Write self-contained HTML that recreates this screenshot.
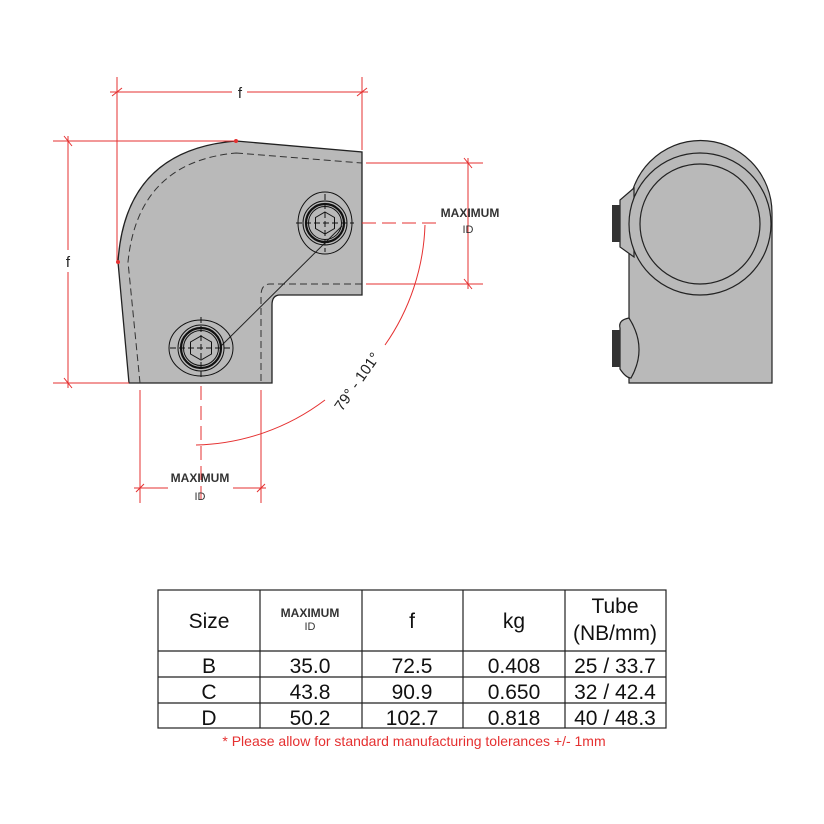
<!DOCTYPE html>
<html><head><meta charset="utf-8"><style>
html,body{margin:0;padding:0;background:#fff;}
svg{display:block;font-family:"Liberation Sans",Arial,sans-serif;}
</style></head><body>
<svg width="824" height="824" viewBox="0 0 824 824" xmlns="http://www.w3.org/2000/svg">
<path d="M236,141 L362,152 L362,295 L280,295 Q272,295 272,305 L272,383 L129,383 L118,262 Q125,150 236,141 Z" fill="#b9b9b9" stroke="#222" stroke-width="1.3"/>
<path d="M236,153 L362,163 M362,284 L270,284 Q261,284 261,296 L261,383 M140,383 L128,262 Q138,162 236,153" fill="none" stroke="#333" stroke-width="1" stroke-dasharray="7,4"/>
<line x1="342" y1="226" x2="220" y2="347" stroke="#222" stroke-width="1"/>
<g transform="translate(325,223)" fill="none" stroke="#111">
<ellipse rx="27" ry="31" stroke-width="1"/>
<circle r="22" stroke-width="1"/><circle r="19" stroke-width="2.2"/><circle r="16.5" stroke-width="1"/>
<polygon points="0,-11 9.5,-5.5 9.5,5.5 0,11 -9.5,5.5 -9.5,-5.5" stroke-width="1"/>
<line x1="-29" y1="0" x2="29" y2="0" stroke-dasharray="6,3"/><line x1="0" y1="-29" x2="0" y2="29" stroke-dasharray="6,3"/>
</g>
<g transform="translate(201,348)" fill="none" stroke="#111">
<ellipse rx="32" ry="28" stroke-width="1"/>
<circle r="23" stroke-width="1"/><circle r="20" stroke-width="2.2"/><circle r="17.5" stroke-width="1"/>
<polygon points="0,-12 10.5,-6 10.5,6 0,12 -10.5,6 -10.5,-6" stroke-width="1"/>
<line x1="-31" y1="0" x2="31" y2="0" stroke-dasharray="6,3"/><line x1="0" y1="-31" x2="0" y2="31" stroke-dasharray="6,3"/>
</g>
<g stroke="#e53030" stroke-width="1" fill="none">
<line x1="117" y1="77" x2="117" y2="262"/><line x1="362" y1="77" x2="362" y2="150"/>
<line x1="110" y1="92" x2="232" y2="92"/><line x1="247" y1="92" x2="368" y2="92"/>
<line x1="53" y1="141" x2="236" y2="141"/><line x1="53" y1="383" x2="129" y2="383"/>
<line x1="68" y1="136" x2="68" y2="250"/><line x1="68" y1="272" x2="68" y2="388"/>
<line x1="366" y1="163" x2="483" y2="163"/><line x1="366" y1="284" x2="483" y2="284"/>
<line x1="468" y1="158" x2="468" y2="289"/>
<line x1="362" y1="223" x2="436" y2="223" stroke-dasharray="14,6"/>
<line x1="140" y1="390" x2="140" y2="503"/><line x1="261" y1="390" x2="261" y2="503"/>
<line x1="134" y1="488" x2="168" y2="488"/><line x1="233" y1="488" x2="266" y2="488"/>
<line x1="201" y1="386" x2="201" y2="505" stroke-dasharray="14,6"/>
<path d="M196,445 A222,222 0 0 0 325,400"/>
<path d="M385,345 A222,222 0 0 0 425,225"/>
<path d="M112,96 L122,88 M357,96 L367,88 M64,136 L72,146 M64,378 L72,388 M464,158 L472,168 M464,279 L472,289 M136,492 L144,484 M257,492 L265,484"/>
</g>
<circle cx="236" cy="141" r="2" fill="#e53030"/><circle cx="118" cy="262" r="2" fill="#e53030"/>
<g fill="#222">
<text x="240" y="98" font-size="15" text-anchor="middle">f</text>
<text x="68" y="267" font-size="15" text-anchor="middle">f</text>
<text x="470" y="217" font-size="12" font-weight="bold" text-anchor="middle" fill="#333">MAXIMUM</text>
<text x="468" y="233" font-size="11" text-anchor="middle" fill="#333">ID</text>
<text x="200" y="482" font-size="12" font-weight="bold" text-anchor="middle" fill="#333">MAXIMUM</text>
<text x="200" y="500" font-size="11" text-anchor="middle" fill="#333">ID</text>
<text x="0" y="0" font-size="15" transform="translate(342,412) rotate(-55)">79° - 101°</text>
</g>
<g stroke="#222" stroke-width="1.2" fill="#b9b9b9">
<path d="M629,383 L629,213 A71,72 0 0 1 772,213 L772,383 Z"/>
<path d="M634,188 L620,200 L620,247 L634,257 Z"/>
<path d="M629,318 Q618,320 620,328 L620,369 Q626,378 631,378 Q648,348 629,318 Z"/>
<circle cx="700" cy="224" r="71" fill="#b9b9b9"/>
<circle cx="700" cy="224" r="60"/>
</g>
<rect x="612" y="205" width="8" height="37" fill="#333"/>
<rect x="612" y="330" width="8" height="37" fill="#333"/>
<g stroke="#222" stroke-width="1.2" fill="none">
<rect x="158" y="590" width="508" height="138"/>
<line x1="260" y1="590" x2="260" y2="728"/><line x1="362" y1="590" x2="362" y2="728"/>
<line x1="463" y1="590" x2="463" y2="728"/><line x1="565" y1="590" x2="565" y2="728"/>
<line x1="158" y1="651" x2="666" y2="651"/><line x1="158" y1="677" x2="666" y2="677"/><line x1="158" y1="703" x2="666" y2="703"/>
</g>
<g fill="#111" font-size="21" text-anchor="middle">
<text x="209" y="628">Size</text>
<text x="310" y="617" font-size="12" font-weight="bold" fill="#333">MAXIMUM</text>
<text x="310" y="630" font-size="11" fill="#333">ID</text>
<text x="412" y="628">f</text>
<text x="514" y="628">kg</text>
<text x="615" y="613">Tube</text>
<text x="615" y="640">(NB/mm)</text>
<text x="209" y="673">B</text><text x="310" y="673">35.0</text><text x="412" y="673">72.5</text><text x="514" y="673">0.408</text><text x="615" y="673">25 / 33.7</text>
<text x="209" y="699">C</text><text x="310" y="699">43.8</text><text x="412" y="699">90.9</text><text x="514" y="699">0.650</text><text x="615" y="699">32 / 42.4</text>
<text x="209" y="725">D</text><text x="310" y="725">50.2</text><text x="412" y="725">102.7</text><text x="514" y="725">0.818</text><text x="615" y="725">40 / 48.3</text>
</g>
<text x="414" y="746" font-size="14" fill="#e53030" text-anchor="middle">* Please allow for standard manufacturing tolerances +/- 1mm</text>
</svg>
</body></html>
